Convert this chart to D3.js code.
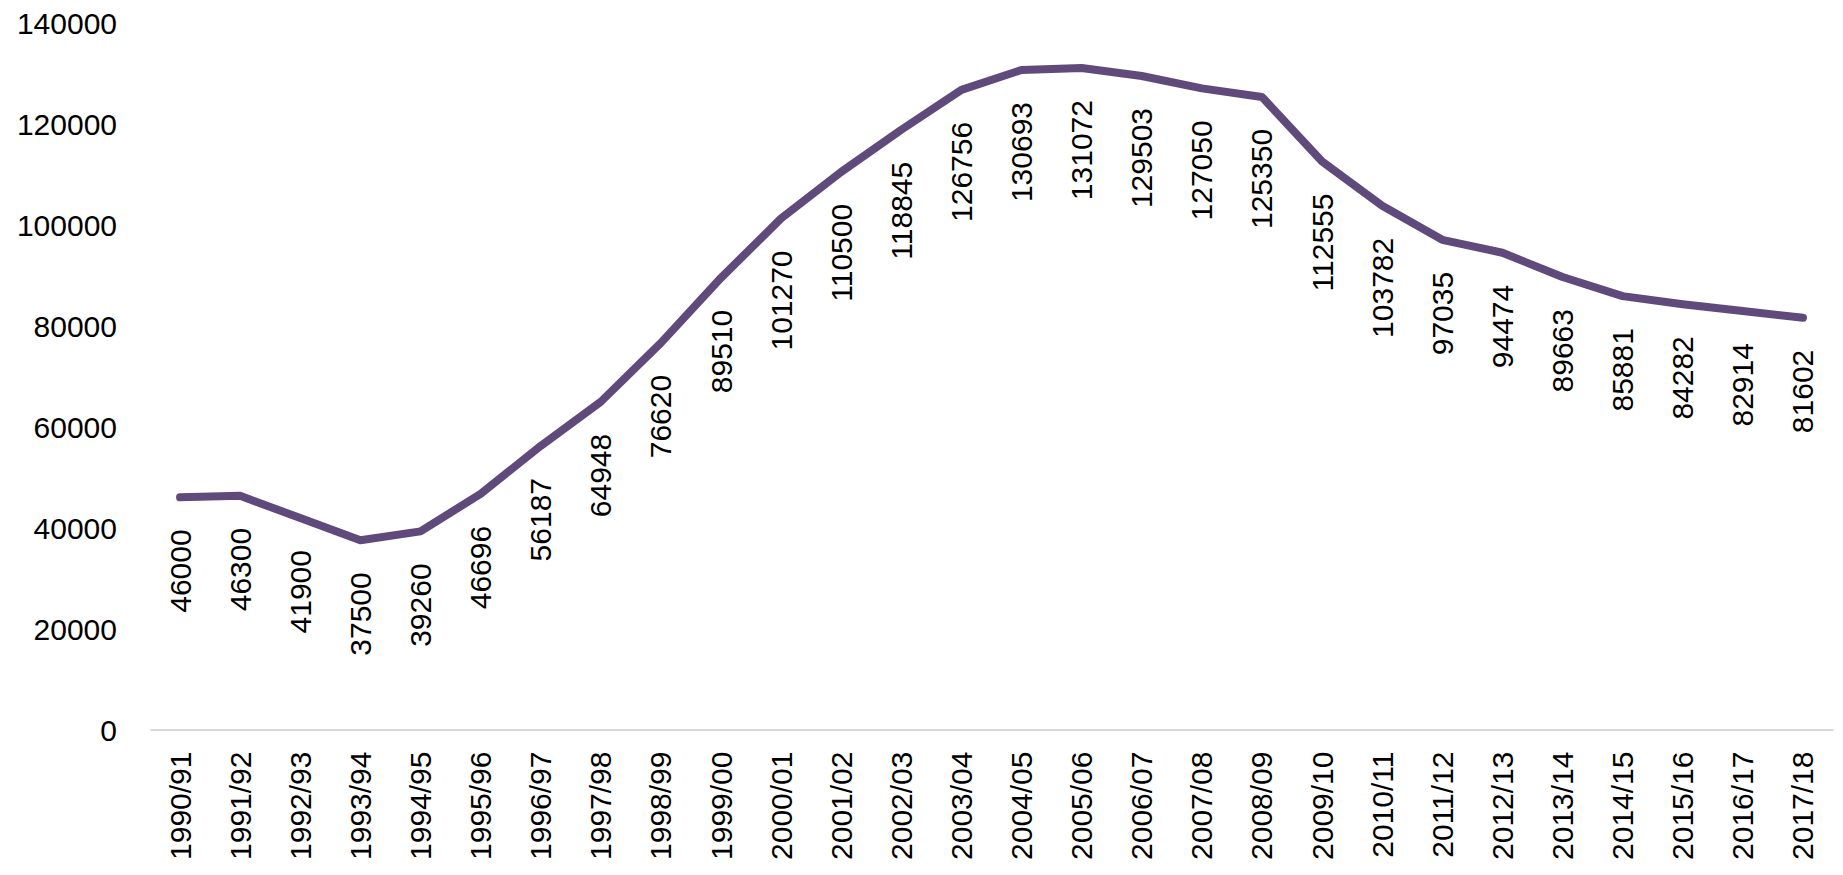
<!DOCTYPE html>
<html>
<head>
<meta charset="utf-8">
<script src="https://cdn.jsdelivr.net/npm/d3@7"></script>
<style>
  body { margin: 0; background: #fff; }
  text { font-family: "Liberation Sans", Arial, sans-serif; fill: #000; }
</style>
</head>
<body>
<div id="chart"></div>
<script>
// Data
// ================================
var seasons = ["1990/91", "1991/92", "1992/93", "1993/94", "1994/95", "1995/96", "1996/97",
  "1997/98", "1998/99", "1999/00", "2000/01", "2001/02", "2002/03", "2003/04", "2004/05",
  "2005/06", "2006/07", "2007/08", "2008/09", "2009/10", "2010/11", "2011/12", "2012/13",
  "2013/14", "2014/15", "2015/16", "2016/17", "2017/18"];

var values = [46000, 46300, 41900, 37500, 39260, 46696, 56187, 64948, 76620, 89510,
  101270, 110500, 118845, 126756, 130693, 131072, 129503, 127050, 125350, 112555,
  103782, 97035, 94474, 89663, 85881, 84282, 82914, 81602];

var yTicks = [0, 20000, 40000, 60000, 80000, 100000, 120000, 140000];

// Set up chart
// ================================
var svgWidth = 1843;
var svgHeight = 875;

var svg = d3.select("#chart")
  .append("svg")
  .attr("width", svgWidth)
  .attr("height", svgHeight);

var xScale = d3.scaleBand()
  .domain(seasons)
  .range([150, 1833]);

var yScale = d3.scaleLinear()
  .domain([0, 140000])
  .range([729.5, 23]);

// y axis labels (no line)
var leftAxis = d3.axisLeft(yScale)
  .tickValues(yTicks)
  .tickFormat(d3.format("d"))
  .tickSize(0)
  .tickPadding(0);
var yAxisG = svg.append("g")
  .attr("transform", "translate(117, 0)")
  .call(leftAxis);
yAxisG.select(".domain").remove();
yAxisG.selectAll("text")
  .style("font-size", "30px")
  .attr("dy", "0.35em");

// x axis
var bottomAxis = d3.axisBottom(xScale).tickSize(0).tickSizeOuter(0);
var xAxisG = svg.append("g")
  .attr("transform", `translate(0, ${yScale(0)})`)
  .call(bottomAxis);
xAxisG.select(".domain").attr("stroke", "#d9d9d9").attr("stroke-width", 2);
xAxisG.selectAll("text")
  .style("font-size", "30px")
  .attr("text-anchor", "end")
  .attr("transform", "rotate(-90)")
  .attr("x", -22)
  .attr("y", 0)
  .attr("dy", "0.35em");

// line
var line = d3.line()
  .x((d, i) => xScale(seasons[i]) + xScale.bandwidth() / 2)
  .y(d => yScale(d));

svg.append("path")
  .datum(values)
  .attr("d", line)
  .attr("fill", "none")
  .attr("stroke", "#604A7B")
  .attr("stroke-width", 8)
  .attr("stroke-linejoin", "round")
  .attr("stroke-linecap", "round");

// data labels below points
svg.selectAll("text.data-label")
  .data(values)
  .enter()
  .append("text")
  .classed("data-label", true)
  .text(d => d)
  .attr("transform", (d, i) =>
    `translate(${xScale(seasons[i]) + xScale.bandwidth() / 2}, ${yScale(d) + 32}) rotate(-90)`)
  .attr("text-anchor", "end")
  .attr("dy", "0.35em")
  .style("font-size", "30px");
</script>
</body>
</html>
